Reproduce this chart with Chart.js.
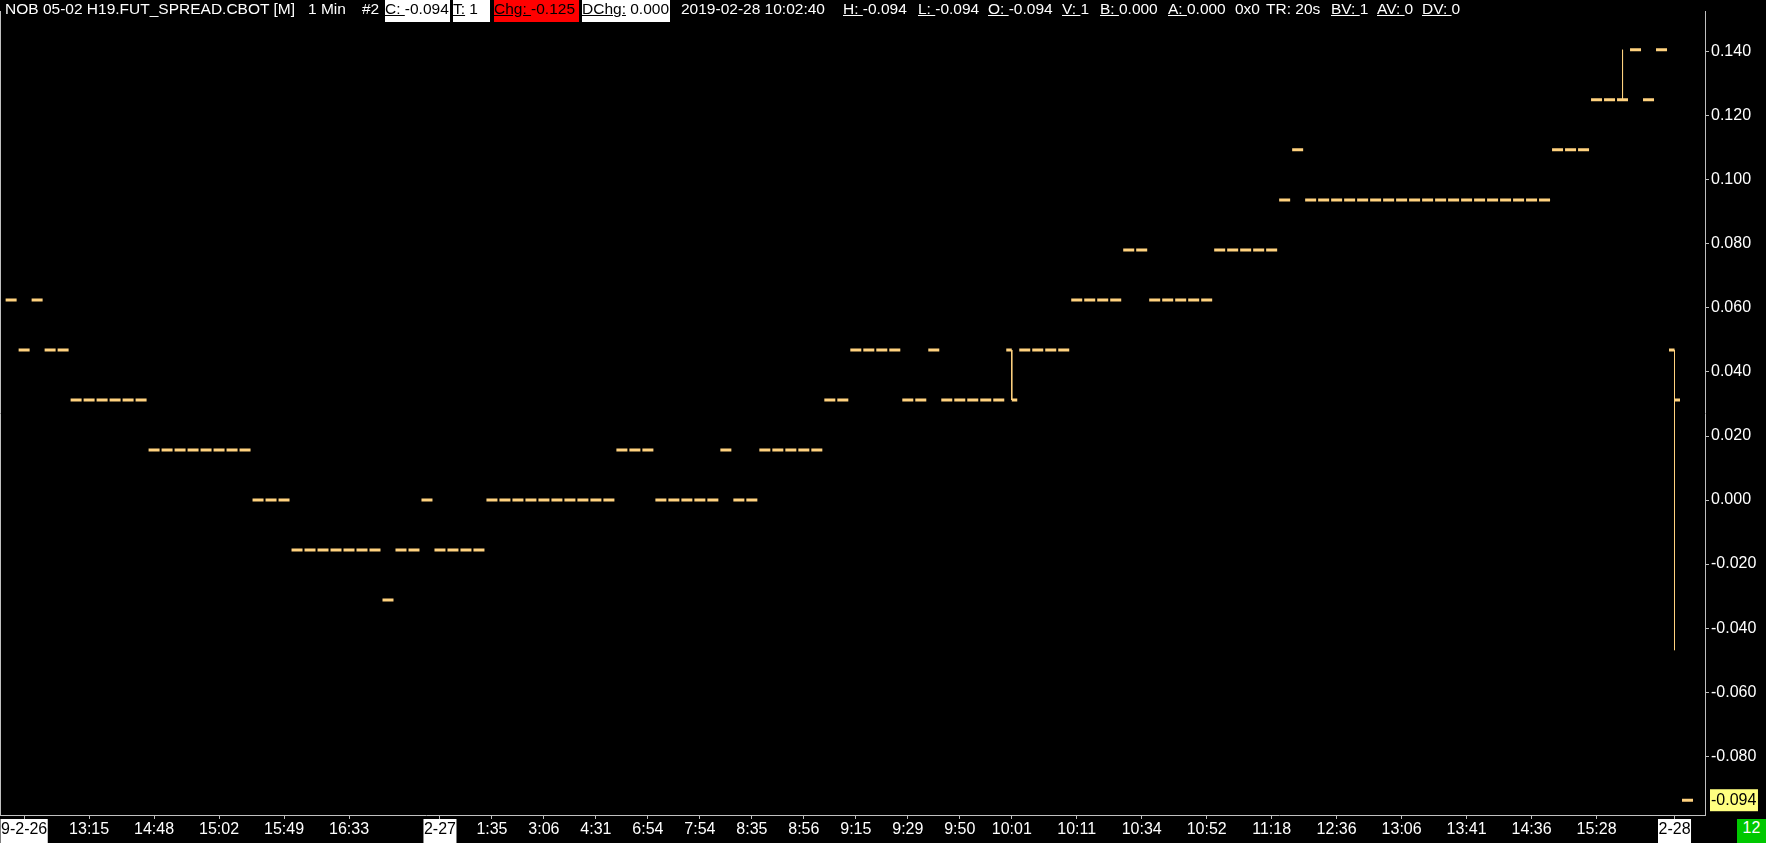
<!DOCTYPE html>
<html>
<head>
<meta charset="utf-8">
<title>NOB 05-02 H19.FUT_SPREAD.CBOT [M] 1 Min</title>
<script src="https://cdn.jsdelivr.net/npm/chart.js@4.4.1/dist/chart.umd.min.js"></script>
<style>
  html, body { margin: 0; padding: 0; background: #000; }
  #wrap { position: relative; width: 1766px; height: 843px; background: #000; overflow: hidden; }
  #chart { position: absolute; left: 0; top: 0; }
  .hd { position: absolute; top: 0; height: 22px; line-height: 22px; font: 15.5px "Liberation Sans", Arial, sans-serif; color: #fff; white-space: nowrap; }
  .box { background: #fff; color: #000; }
  .red { background: #ff0000; color: #000; }
  #barCount { position: absolute; left: 1737px; top: 819px; width: 29px; height: 24px; line-height: 24px; background: #00c800; color: #fff; font: 16px "Liberation Sans", Arial, sans-serif; text-align: center; }
</style>
</head>
<body>
<div id="wrap">
  <canvas id="chart" width="1766" height="843"></canvas>

  <div class="hd" style="left:5px">NOB 05-02 H19.FUT_SPREAD.CBOT [M]</div>
  <div class="hd" style="left:308px">1 Min</div>
  <div class="hd" style="left:362px">#2</div>
  <div class="hd box" style="left:385px;width:65px"><u>C:&nbsp;</u>-0.094</div>
  <div class="hd box" style="left:453px;width:37px"><u>T:</u>&nbsp;1</div>
  <div class="hd red" style="left:494px;width:85px"><u>Chg:&nbsp;</u>-0.125</div>
  <div class="hd box" style="left:582px;width:88px"><u>DChg:</u>&nbsp;0.000</div>
  <div class="hd" style="left:681px">2019-02-28 10:02:40</div>
  <div class="hd" style="left:843px"><u>H:&nbsp;</u>-0.094</div>
  <div class="hd" style="left:918px"><u>L:&nbsp;</u>-0.094</div>
  <div class="hd" style="left:988px"><u>O:&nbsp;</u>-0.094</div>
  <div class="hd" style="left:1062px"><u>V:&nbsp;</u>1</div>
  <div class="hd" style="left:1100px"><u>B:&nbsp;</u>0.000</div>
  <div class="hd" style="left:1168px"><u>A:&nbsp;</u>0.000</div>
  <div class="hd" style="left:1235px">0x0</div>
  <div class="hd" style="left:1266px">TR: 20s</div>
  <div class="hd" style="left:1331px"><u>BV:&nbsp;</u>1</div>
  <div class="hd" style="left:1377px"><u>AV:&nbsp;</u>0</div>
  <div class="hd" style="left:1422px"><u>DV:&nbsp;</u>0</div>

  <div id="barCount">12</div>
</div>

<script>
// ---------- Data ----------
// last trade price of each 1-min bar (null = bar drawn as OHLC below)
const lastPrice = [
  0.0625, 0.046875, 0.0625, 0.046875, 0.046875,
  0.03125, 0.03125, 0.03125, 0.03125, 0.03125, 0.03125,
  0.015625, 0.015625, 0.015625, 0.015625, 0.015625, 0.015625, 0.015625, 0.015625,
  0, 0, 0,
  -0.015625, -0.015625, -0.015625, -0.015625, -0.015625, -0.015625, -0.015625,
  -0.03125,
  -0.015625, -0.015625,
  0,
  -0.015625, -0.015625, -0.015625, -0.015625,
  0, 0, 0, 0, 0, 0, 0, 0, 0, 0,
  0.015625, 0.015625, 0.015625,
  0, 0, 0, 0, 0,
  0.015625,
  0, 0,
  0.015625, 0.015625, 0.015625, 0.015625, 0.015625,
  0.03125, 0.03125,
  0.046875, 0.046875, 0.046875, 0.046875,
  0.03125, 0.03125,
  0.046875,
  0.03125, 0.03125, 0.03125, 0.03125, 0.03125,
  null,
  0.046875, 0.046875, 0.046875, 0.046875,
  0.0625, 0.0625, 0.0625, 0.0625,
  0.078125, 0.078125,
  0.0625, 0.0625, 0.0625, 0.0625, 0.0625,
  0.078125, 0.078125, 0.078125, 0.078125, 0.078125,
  0.09375,
  0.109375,
  0.09375, 0.09375, 0.09375, 0.09375, 0.09375, 0.09375, 0.09375, 0.09375, 0.09375, 0.09375,
  0.09375, 0.09375, 0.09375, 0.09375, 0.09375, 0.09375, 0.09375, 0.09375, 0.09375,
  0.109375, 0.109375, 0.109375,
  0.125, 0.125,
  null,
  0.140625,
  0.125,
  0.140625,
  null,
  -0.09375
];

// bars with a range, drawn as OHLC
const ohlcSlot  = [77, 124, 128];
const ohlcOpen  = [0.046875, 0.125, 0.046875];
const ohlcHigh  = [0.046875, 0.140625, 0.046875];
const ohlcLow   = [0.03125, 0.125, -0.046875];
const ohlcClose = [0.03125, 0.125, 0.03125];

const xTickSlots = [1, 6, 11, 16, 21, 26, 33, 37, 41, 45, 49, 53, 57, 61, 65, 69, 73, 77, 82, 87, 92, 97, 102, 107, 112, 117, 122, 128];
const xTickLabels = ['9-2-26', '13:15', '14:48', '15:02', '15:49', '16:33', '2-27', '1:35', '3:06', '4:31', '6:54', '7:54',
  '8:35', '8:56', '9:15', '9:29', '9:50', '10:01', '10:11', '10:34', '10:52', '11:18', '12:36', '13:06', '13:41', '14:36', '15:28', '2-28'];
const dateLabels = ['9-2-26', '2-27', '2-28'];

const yTickValues = [-0.08, -0.06, -0.04, -0.02, 0, 0.02, 0.04, 0.06, 0.08, 0.10, 0.12, 0.14];
const lastTradePrice = -0.09375;

// ---------- Style ----------
const DASH = '#ffd27f';
const AXIS = '#c0c0c0';
const FONT = { family: '"Liberation Sans", Arial, sans-serif', size: 16 };
const X_MIN = -0.8077, X_MAX = 130.346;
const Y_MIN = -0.098365, Y_MAX = 0.152555;
const HALF_SLOT = 0.423;

// ---------- Build datasets ----------
const dashPoints = lastPrice.map((v, i) => ({ x: i, y: v }));

const rangeLines = [];
const openClose = [];
ohlcSlot.forEach((s, i) => {
  rangeLines.push({ x: s, y: ohlcHigh[i] }, { x: s, y: ohlcLow[i] }, { x: s, y: null });
  openClose.push({ x: s - HALF_SLOT, y: ohlcOpen[i] }, { x: s, y: ohlcOpen[i] }, { x: s, y: null });
  openClose.push({ x: s, y: ohlcClose[i] }, { x: s + HALF_SLOT, y: ohlcClose[i] }, { x: s, y: null });
});

new Chart(document.getElementById('chart'), {
  type: 'line',
  data: {
    datasets: [
      {
        data: dashPoints,
        showLine: false,
        pointStyle: 'line',
        pointRadius: 5.5,
        pointBorderWidth: 3,
        pointBorderColor: DASH,
        pointBackgroundColor: DASH
      },
      {
        data: rangeLines,
        borderColor: DASH,
        borderWidth: 1,
        pointRadius: 0,
        spanGaps: false
      },
      {
        data: openClose,
        borderColor: DASH,
        borderWidth: 3,
        pointRadius: 0,
        spanGaps: false
      }
    ]
  },
  options: {
    responsive: false,
    animation: false,
    devicePixelRatio: 1,
    events: [],
    layout: { padding: 0, autoPadding: false },
    plugins: { legend: { display: false }, tooltip: { enabled: false } },
    scales: {
      x: {
        type: 'linear',
        position: 'bottom',
        min: X_MIN,
        max: X_MAX,
        afterBuildTicks: (scale) => { scale.ticks = xTickSlots.map(v => ({ value: v })); },
        afterFit: (scale) => { scale.height = 28; },
        border: { display: true, color: AXIS, width: 1 },
        grid: { display: true, drawOnChartArea: false, drawTicks: true, tickLength: 4, tickColor: AXIS },
        ticks: {
          autoSkip: false,
          maxRotation: 0,
          minRotation: 0,
          padding: 1,
          font: FONT,
          callback: (v, i) => xTickLabels[i],
          color: (ctx) => dateLabels.includes(ctx.tick && ctx.tick.label) ? '#000' : '#fff',
          showLabelBackdrop: (ctx) => dateLabels.includes(ctx.tick && ctx.tick.label),
          backdropColor: '#fff',
          backdropPadding: { top: 1, bottom: 5, left: 0.5, right: 0.5 }
        }
      },
      y: {
        type: 'linear',
        position: 'right',
        min: Y_MIN,
        max: Y_MAX,
        afterBuildTicks: (scale) => {
          scale.ticks = [lastTradePrice].concat(yTickValues).map(v => ({ value: v }));
        },
        afterFit: (scale) => { scale.width = 61; },
        border: { display: true, color: AXIS, width: 1 },
        grid: {
          display: true, drawOnChartArea: false, drawTicks: true, tickLength: 4,
          tickColor: (ctx) => (ctx.tick && ctx.tick.value === lastTradePrice) ? 'rgba(0,0,0,0)' : AXIS
        },
        ticks: {
          autoSkip: false,
          padding: 2,
          font: FONT,
          callback: (v) => Number(v).toFixed(3),
          color: (ctx) => (ctx.tick && ctx.tick.value === lastTradePrice) ? '#000' : '#fff',
          showLabelBackdrop: (ctx) => !!(ctx.tick && ctx.tick.value === lastTradePrice),
          backdropColor: '#ffff80',
          backdropPadding: { top: 1.4, bottom: 1.4, left: 1, right: 1.6 }
        }
      },
      yLeft: {
        type: 'linear',
        position: 'left',
        afterFit: (scale) => { scale.width = 0; },
        border: { display: true, color: AXIS, width: 1 },
        grid: { display: false, drawTicks: false },
        ticks: { display: false }
      }
    }
  }
});
</script>
</body>
</html>
